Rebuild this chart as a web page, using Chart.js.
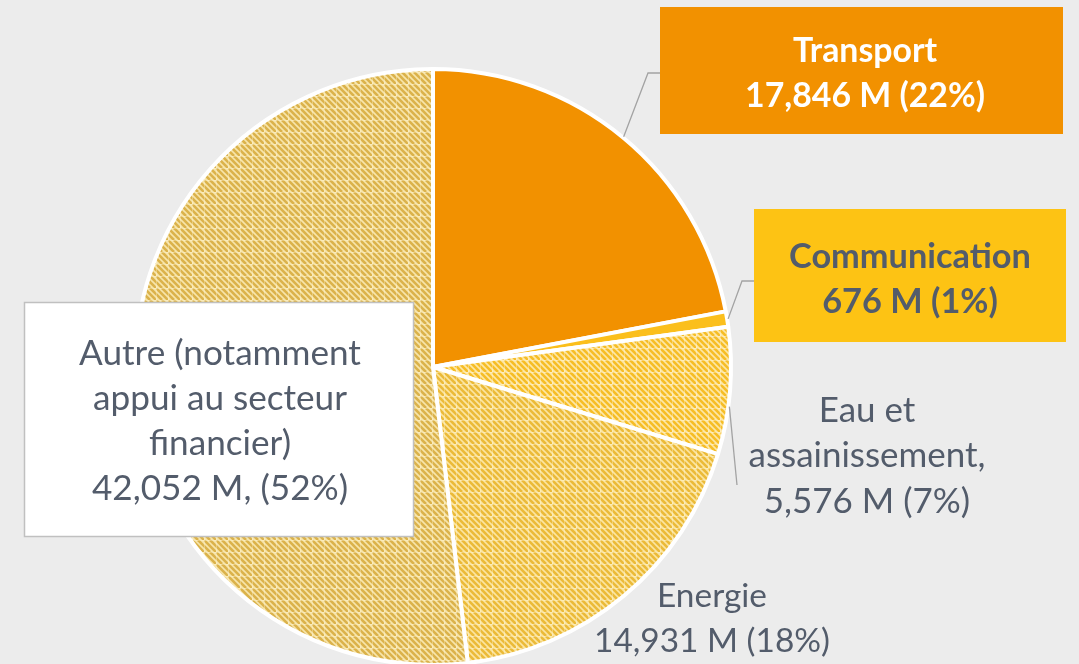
<!DOCTYPE html>
<html>
<head>
<meta charset="utf-8">
<script src="https://cdn.jsdelivr.net/npm/chart.js@4.4.0/dist/chart.umd.min.js"></script>
<style>
  html, body { margin: 0; padding: 0; background: #ececec; overflow: hidden; }
</style>
</head>
<body>
<canvas id="pieChart" width="1079" height="664"></canvas>
<script>
// Données
const categories = ['Transport', 'Communication', 'Eau et assainissement', 'Energie', 'Autre (notamment appui au secteur financier)'];
const amounts = [17846, 676, 5576, 14931, 42052];
const labelLines = [
  ['Transport', '17,846 M (22%)'],
  ['Communication', '676 M (1%)'],
  ['Eau et', 'assainissement,', '5,576 M (7%)'],
  ['Energie', '14,931 M (18%)'],
  ['Autre (notamment', 'appui au secteur', 'financier)', '42,052 M, (52%)']
];

const FONT = 'Lato, "Open Sans", sans-serif';

//Motif hachuré pour les parts claires
function makePattern(base, stripe, grid) {
  const c = document.createElement('canvas');
  c.width = 12;
  c.height = 12;
  const g = c.getContext('2d');
  g.fillStyle = base;
  g.fillRect(0, 0, 12, 12);
  g.strokeStyle = stripe;
  g.lineWidth = 2.6;
  [-6, 0, 6].forEach(o => {
    g.beginPath();
    g.moveTo(o, 0);
    g.lineTo(o + 12, 12);
    g.stroke();
  });
  g.fillStyle = grid;
  g.fillRect(0, 0, 12, 1);
  g.fillRect(0, 0, 1, 12);
  return g.createPattern(c, 'repeat');
}

const sliceColors = [
  '#f29100',
  '#fbbf1c',
  makePattern('#fde7a6', '#f6bd26', 'rgba(255,250,225,0.35)'),
  makePattern('#fbe5a2', '#ebba38', 'rgba(255,248,220,0.35)'),
  makePattern('#f7e5ab', '#dbb24b', 'rgba(255,246,215,0.35)')
];

//Mise en page des étiquettes
const callouts = [
  {box: [660, 7, 403, 127], fill: '#f29100', color: '#ffffff', weight: 'bold', cx: 865, baselines: [62, 107], width: 240, leader: [[648, 73], [660, 73]]},
  {box: [754, 209, 312, 133], fill: '#fdc314', color: '#535c6b', weight: 'bold', cx: 910, baselines: [268, 313], width: 242, leader: [[742, 281], [754, 281]]},
  {box: null, color: '#535c6b', weight: 'normal', cx: 867, baselines: [422, 467, 513], width: 237, leader: [[737, 485]], anchorShift: 3},
  {box: null, color: '#535c6b', weight: 'normal', cx: 712, baselines: [607, 652], width: 236, leader: null},
  {box: [24, 302, 390, 235], fill: '#ffffff', stroke: '#c0c0c0', color: '#535c6b', weight: 'normal', cx: 220, baselines: [365, 410, 455, 500], width: 282, leader: null}
];

//Taille de police ajustée à la largeur voulue
function fitSize(ctx, lines, weight, width) {
  ctx.font = `${weight} 100px ${FONT}`;
  const widest = Math.max(...lines.map(l => ctx.measureText(l).width));
  return 100 * width / widest;
}

const calloutPlugin = {
  id: 'callouts',
  afterDraw(chart) {
    const ctx = chart.ctx;
    const arcs = chart.getDatasetMeta(0).data;
    ctx.save();
    callouts.forEach((c, i) => {
      //Ligne de rappel
      if (c.leader) {
        const arc = arcs[i];
        const mid = (arc.startAngle + arc.endAngle) / 2 + (c.anchorShift || 0) * Math.PI / 180;
        const r = arc.outerRadius + 1;
        ctx.beginPath();
        ctx.moveTo(arc.x + r * Math.cos(mid), arc.y + r * Math.sin(mid));
        c.leader.forEach(p => ctx.lineTo(p[0], p[1]));
        ctx.strokeStyle = '#a3a3a3';
        ctx.lineWidth = 1.3;
        ctx.stroke();
      }
      //Cadre
      if (c.box) {
        ctx.fillStyle = c.fill;
        ctx.fillRect(c.box[0], c.box[1], c.box[2], c.box[3]);
        if (c.stroke) {
          ctx.strokeStyle = c.stroke;
          ctx.lineWidth = 1.5;
          ctx.strokeRect(c.box[0] + 0.5, c.box[1] + 0.5, c.box[2] - 1, c.box[3] - 1);
        }
      }
      //Texte
      const size = fitSize(ctx, labelLines[i], c.weight, c.width);
      ctx.font = `${c.weight} ${size}px ${FONT}`;
      ctx.fillStyle = c.color;
      ctx.textAlign = 'center';
      ctx.textBaseline = 'alphabetic';
      labelLines[i].forEach((line, j) => ctx.fillText(line, c.cx, c.baselines[j]));
    });
    ctx.restore();
  }
};

new Chart(document.getElementById('pieChart'), {
  type: 'pie',
  data: {
    labels: categories,
    datasets: [{
      data: amounts,
      backgroundColor: sliceColors,
      borderColor: '#ffffff',
      borderWidth: 4
    }]
  },
  options: {
    responsive: false,
    animation: false,
    radius: 298,
    layout: {
      padding: {left: 0, right: 213, top: 70, bottom: 0}
    },
    plugins: {
      legend: {display: false},
      tooltip: {enabled: false}
    }
  },
  plugins: [calloutPlugin]
});
</script>
</body>
</html>
